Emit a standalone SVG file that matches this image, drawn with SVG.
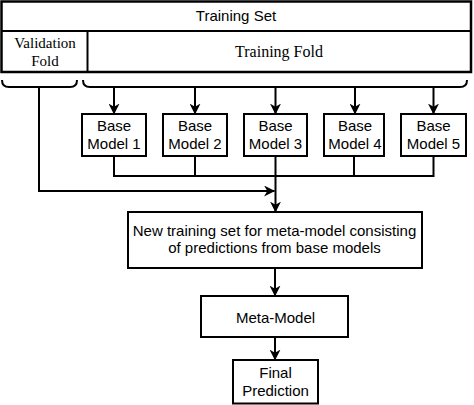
<svg xmlns="http://www.w3.org/2000/svg" width="474" height="405" viewBox="0 0 474 405">
<style>
.box{fill:#fff;stroke:#000;stroke-width:2}
.ln{fill:none;stroke:#000;stroke-width:2}
.sans{font-family:"Liberation Sans",Arial,sans-serif;font-size:15px;fill:#000;text-anchor:middle}
.serif{font-family:"Liberation Serif","Times New Roman",serif;fill:#000;text-anchor:middle}
</style>
<defs>
<marker id="arr" markerUnits="userSpaceOnUse" markerWidth="11" markerHeight="11" viewBox="0 0 10 10" refX="9.5" refY="5" orient="auto">
<path d="M0,0 L10,5 L0,10 L3,5 z" fill="#000"/>
</marker>
</defs>
<rect width="474" height="405" fill="#fff"/>
<g id="training-set">
<rect x="1.5" y="1.5" width="469.5" height="70.5" fill="#fff" stroke="#000" stroke-width="2.5"/>
<line x1="1.5" y1="31" x2="471" y2="31" class="ln"/>
<text x="236" y="21" class="sans">Training Set</text>
</g>
<g id="validation-fold">
<line x1="87.5" y1="31" x2="87.5" y2="72" class="ln"/>
<text x="45" y="48" class="serif" font-size="15">Validation</text>
<text x="45" y="66" class="serif" font-size="15">Fold</text>
</g>
<g id="training-fold">
<text x="279" y="57" class="serif" font-size="16">Training Fold</text>
</g>
<g id="connectors">
<path class="ln" d="M2,80 Q2,87 9,87 L70,87 Q77,87 77,80"/>
<path class="ln" d="M83,80 Q83,87 90,87 L460,87 Q467,87 467,80"/>
<path class="ln" d="M114,87 V114" marker-end="url(#arr)"/>
<path class="ln" d="M195,87 V114" marker-end="url(#arr)"/>
<path class="ln" d="M275.5,87 V114" marker-end="url(#arr)"/>
<path class="ln" d="M355,87 V114" marker-end="url(#arr)"/>
<path class="ln" d="M433.5,87 V114" marker-end="url(#arr)"/>
<path class="ln" d="M114,156 V176 H433.5 V156"/>
<path class="ln" d="M195,156 V176"/>
<path class="ln" d="M354,156 V176"/>
<path class="ln" d="M275.5,156 V212" marker-end="url(#arr)"/>
<path class="ln" d="M39,87 V191 H274.5" marker-end="url(#arr)"/>
<path class="ln" d="M275,268 V296" marker-end="url(#arr)"/>
<path class="ln" d="M275,337 V360" marker-end="url(#arr)"/>
</g>
<g id="base-model-1">
<rect class="box" x="82" y="114" width="64" height="42"/>
<text x="114" y="131" class="sans">Base</text>
<text x="114" y="149" class="sans">Model 1</text>
</g>
<g id="base-model-2">
<rect class="box" x="163" y="114" width="64" height="42"/>
<text x="195" y="131" class="sans">Base</text>
<text x="195" y="149" class="sans">Model 2</text>
</g>
<g id="base-model-3">
<rect class="box" x="244" y="114" width="63" height="42"/>
<text x="275.5" y="131" class="sans">Base</text>
<text x="275.5" y="149" class="sans">Model 3</text>
</g>
<g id="base-model-4">
<rect class="box" x="324" y="114" width="60" height="42"/>
<text x="355" y="131" class="sans">Base</text>
<text x="355" y="149" class="sans">Model 4</text>
</g>
<g id="base-model-5">
<rect class="box" x="401" y="114" width="65" height="42"/>
<text x="433.5" y="131" class="sans">Base</text>
<text x="433.5" y="149" class="sans">Model 5</text>
</g>
<g id="new-training-set">
<rect class="box" x="128" y="212" width="294" height="56"/>
<text x="274.5" y="236" class="sans" font-size="15.4">New training set for meta-model consisting</text>
<text x="274.5" y="253" class="sans" font-size="15.4">of predictions from base models</text>
</g>
<g id="meta-model">
<rect class="box" x="201" y="296" width="147" height="41"/>
<text x="275.5" y="322.5" class="sans">Meta-Model</text>
</g>
<g id="final-prediction">
<rect class="box" x="233" y="360" width="85" height="43.5"/>
<text x="275.5" y="378" class="sans">Final</text>
<text x="275.5" y="396" class="sans">Prediction</text>
</g>
</svg>
